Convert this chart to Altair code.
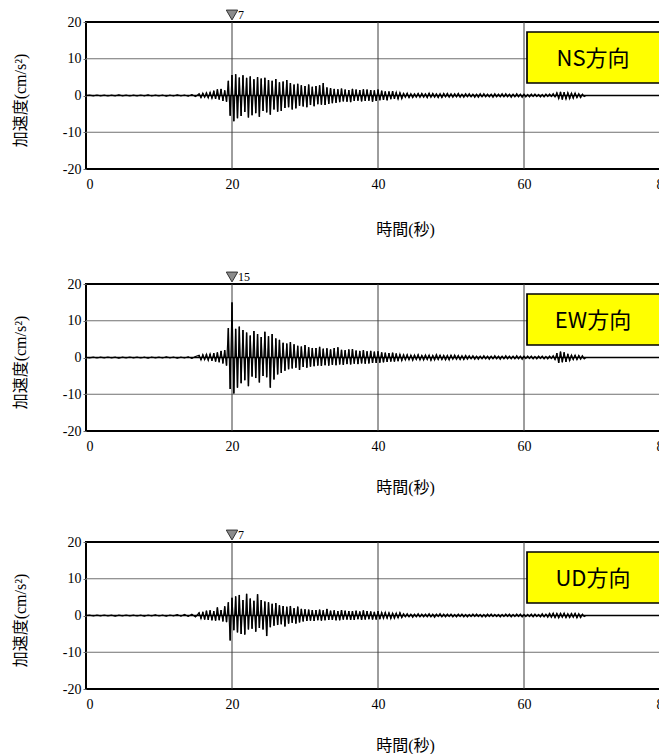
import altair as alt
import pandas as pd

# ---------------- data ----------------
LABELS = ["NS方向", "EW方向", "UD方向"]
PEAK_VALUE = [7, 15, 7]
PEAK_TIME = [20.0, 20.0, 20.0]
X_TICKS = [0, 20, 40, 60, 80]
Y_TICKS = [-20, -10, 0, 10, 20]
H_GRID = [10, -10]
V_GRID = [20, 40, 60]

PRE_STEP = 0.5      # pre-event samples every 0.5 s from 0 s
WAVE_START = 15.5   # main record sampled every 0.25 s from 15.5 s
WAVE_STEP = 0.25
TAIL_T = [68.5, 80.0]
TAIL_V = [0.0, 0.0]

NS_PRE = [0.0, 0.1, -0.1, 0.15, -0.1, 0.1, -0.15, 0.1, -0.1, 0.2, -0.1, 0.1, -0.15, 0.1, -0.1,
          0.15, -0.1, 0.2, -0.15, 0.1, -0.1, 0.15, -0.2, 0.1, -0.15, 0.2, -0.1, 0.15, -0.2, 0.25, -0.3]
EW_PRE = [0.0, -0.1, 0.1, -0.15, 0.1, -0.1, 0.15, -0.1, 0.1, -0.2, 0.1, -0.1, 0.15, -0.1, 0.1,
          -0.15, 0.1, -0.2, 0.15, -0.1, 0.1, -0.15, 0.2, -0.1, 0.15, -0.2, 0.1, -0.15, 0.2, -0.25, 0.3]
UD_PRE = [0.0, 0.1, -0.15, 0.1, -0.1, 0.15, -0.1, 0.1, -0.2, 0.1, -0.1, 0.15, -0.1, 0.1, -0.15,
          0.1, -0.2, 0.15, -0.1, 0.2, -0.15, 0.1, -0.2, 0.15, -0.1, 0.25, -0.2, 0.3, -0.25, 0.35, -0.4]

NS_WAVE = [
    0.5, -0.6, 0.7, -0.5, 0.8, -0.7, 0.9, -0.8, 1.3, -0.9, 1.7, -1.1, 1.8, -1.5, 1.4, -1.7,
    4.0, -5.5, 5.6, -7.0, 5.8, -6.2, 4.9, -5.6, 5.5, -4.5, 4.8, -6.0, 5.2, -5.4, 4.4, -4.8,
    5.0, -5.8, 4.6, -4.2, 4.8, -4.6, 4.2, -5.2, 4.0, -3.8, 4.5, -4.4, 3.6, -4.2, 3.8, -3.4,
    4.2, -3.2, 3.4, -3.8, 3.0, -3.5, 3.2, -2.8, 2.8, -3.0, 2.6, -3.2, 3.0, -2.6, 2.4, -2.9,
    2.6, -2.4, 2.8, -2.5, 3.4, -2.6, 2.2, -2.3, 2.0, -2.1, 1.8, -2.0, 1.7, -1.8, 1.9, -1.6,
    1.6, -1.7, 1.5, -1.8, 1.8, -1.5, 1.6, -1.4, 1.5, -1.6, 1.7, -1.5, 1.6, -1.4, 1.5, -1.7,
    1.4, -1.5, 1.6, -1.3, 1.3, -1.2, 1.1, -1.3, 1.1, -1.0, 1.2, -0.9, 0.9, -1.0, 0.8, -0.9,
    0.6, -0.5, 0.7, -0.6, 0.5, -0.6, 0.5, -0.5, 0.6, -0.5, 0.6, -0.5, 0.5, -0.6, 0.7, -0.5,
    0.6, -0.5, 0.5, -0.6, 0.5, -0.6, 0.6, -0.4, 0.6, -0.5, 0.5, -0.5, 0.5, -0.4, 0.6, -0.5,
    0.4, -0.5, 0.5, -0.4, 0.5, -0.4, 0.4, -0.5, 0.4, -0.5, 0.5, -0.4, 0.5, -0.4, 0.4, -0.4,
    0.4, -0.5, 0.5, -0.4, 0.4, -0.4, 0.5, -0.4, 0.5, -0.4, 0.4, -0.5, 0.4, -0.4, 0.5, -0.4,
    0.4, -0.5, 0.4, -0.4, 0.3, -0.4, 0.4, -0.3, 0.4, -0.3, 0.3, -0.4, 0.3, -0.4, 0.4, -0.3,
    0.4, -0.3, 0.5, -0.4, 0.8, -0.9, 1.0, -1.1, 0.9, -1.0, 0.8, -0.9, 0.7, -0.8, 0.7, -0.6,
    0.5, -0.6, 0.4, -0.3,
]
EW_WAVE = [
    0.6, -0.7, 0.8, -0.6, 0.9, -0.8, 1.0, -0.9, 1.2, -1.1, 1.4, -1.3, 1.8, -1.6, 2.0, -2.2,
    8.0, -8.6, 15.0, -9.8, 7.8, -8.2, 8.4, -7.0, 7.5, -6.2, 6.8, -7.8, 6.0, -5.2, 7.2, -5.6,
    6.4, -6.8, 5.6, -5.0, 7.0, -5.4, 5.8, -8.2, 6.4, -6.0, 5.2, -4.6, 4.8, -4.2, 4.0, -3.6,
    3.8, -3.2, 4.2, -3.0, 3.6, -2.8, 3.2, -3.4, 3.0, -2.6, 3.4, -2.8, 2.8, -2.5, 2.6, -2.4,
    2.6, -2.2, 2.9, -2.3, 2.4, -2.1, 2.5, -2.2, 2.2, -2.0, 2.6, -2.1, 2.8, -1.9, 2.1, -2.0,
    2.0, -1.8, 2.2, -1.9, 2.3, -1.7, 1.9, -1.8, 1.8, -1.6, 2.0, -1.7, 1.7, -1.6, 1.8, -1.5,
    1.6, -1.5, 1.7, -1.4, 1.4, -1.3, 1.3, -1.2, 1.2, -1.1, 1.3, -1.1, 1.1, -1.0, 0.9, -0.9,
    0.8, -0.7, 0.8, -0.7, 0.7, -0.8, 0.7, -0.6, 0.8, -0.7, 0.6, -0.7, 0.7, -0.6, 0.7, -0.8,
    0.6, -0.7, 0.8, -0.6, 0.7, -0.6, 0.6, -0.7, 0.6, -0.7, 0.7, -0.5, 0.7, -0.5, 0.6, -0.6,
    0.5, -0.6, 0.6, -0.5, 0.5, -0.4, 0.5, -0.5, 0.4, -0.5, 0.4, -0.4, 0.5, -0.4, 0.4, -0.5,
    0.4, -0.4, 0.5, -0.4, 0.4, -0.5, 0.4, -0.4, 0.5, -0.4, 0.4, -0.4, 0.4, -0.4, 0.5, -0.4,
    0.4, -0.5, 0.4, -0.3, 0.4, -0.3, 0.4, -0.4, 0.3, -0.4, 0.4, -0.3, 0.4, -0.4, 0.3, -0.4,
    0.4, -0.3, 0.5, -0.6, 1.2, -1.5, 1.6, -1.3, 1.4, -1.2, 1.0, -0.9, 0.7, -0.6, 0.7, -0.6,
    0.6, -0.5, 0.5, -0.4,
]
UD_WAVE = [
    0.8, -0.9, 1.0, -1.1, 1.3, -1.2, 1.4, -1.3, 1.2, -1.4, 2.2, -1.3, 1.5, -1.6, 2.5, -1.8,
    3.6, -6.8, 4.8, -4.0, 5.2, -4.6, 5.6, -5.0, 4.2, -5.2, 5.9, -3.8, 4.6, -3.6, 4.0, -4.4,
    5.8, -3.4, 4.2, -3.8, 3.8, -5.6, 3.6, -3.2, 3.2, -2.8, 3.4, -2.6, 2.8, -2.4, 2.6, -3.0,
    2.4, -2.2, 2.6, -2.0, 2.0, -2.2, 2.4, -1.9, 1.8, -1.6, 1.7, -1.5, 1.6, -1.4, 1.5, -1.5,
    1.5, -1.3, 1.6, -1.4, 1.4, -1.3, 1.8, -1.2, 1.3, -1.2, 1.4, -1.3, 1.2, -1.3, 1.5, -1.1,
    1.3, -1.1, 1.2, -1.2, 1.2, -1.2, 1.3, -1.0, 1.1, -1.2, 1.4, -1.1, 1.2, -1.0, 1.1, -1.1,
    1.0, -1.1, 1.2, -1.0, 0.9, -0.8, 0.9, -0.8, 0.8, -0.9, 0.7, -0.8, 0.7, -0.7, 0.8, -0.6,
    0.5, -0.4, 0.5, -0.4, 0.4, -0.5, 0.4, -0.4, 0.5, -0.4, 0.4, -0.4, 0.4, -0.4, 0.5, -0.4,
    0.4, -0.5, 0.4, -0.3, 0.5, -0.4, 0.4, -0.4, 0.4, -0.3, 0.4, -0.4, 0.3, -0.4, 0.4, -0.3,
    0.4, -0.4, 0.3, -0.4, 0.3, -0.3, 0.4, -0.3, 0.4, -0.3, 0.3, -0.4, 0.3, -0.4, 0.4, -0.3,
    0.4, -0.3, 0.3, -0.3, 0.3, -0.4, 0.3, -0.3, 0.4, -0.3, 0.4, -0.4, 0.3, -0.3, 0.4, -0.3,
    0.4, -0.4, 0.3, -0.3, 0.3, -0.3, 0.4, -0.4, 0.4, -0.3, 0.3, -0.4, 0.5, -0.4, 0.4, -0.5,
    0.6, -0.5, 0.7, -0.6, 0.6, -0.7, 0.6, -0.5, 0.7, -0.6, 0.5, -0.6, 0.6, -0.5, 0.6, -0.7,
    0.5, -0.6, 0.4, -0.3,
]
PRE = [NS_PRE, EW_PRE, UD_PRE]
WAVES = [NS_WAVE, EW_WAVE, UD_WAVE]

NUM_FONT = "Liberation Serif"
SERIF = "Liberation Serif, Noto Sans CJK JP"
SANS = "Noto Sans CJK JP"
W, H = 584, 147
X_TITLE_OFFSET = [60, 56, 56]


def trace_frame(pre, wave):
    t = [i * PRE_STEP for i in range(len(pre))]
    t += [WAVE_START + i * WAVE_STEP for i in range(len(wave))]
    t += TAIL_T
    return pd.DataFrame({"t": t, "a": list(pre) + list(wave) + TAIL_V, "z": 0.0})


XS = alt.Scale(domain=[0, 80], nice=False, zero=False)
YS = alt.Scale(domain=[-20, 20], nice=False)


def axes(i):
    xa = alt.Axis(
        values=X_TICKS, title="時間(秒)", grid=False, ticks=False, domain=False,
        labelFont=NUM_FONT, labelFontSize=14, labelColor="black", labelPadding=8,
        labelExpr="'' + datum.value",
        titleFont=SERIF, titleFontSize=16, titleFontWeight="normal", titleColor="black",
        titleX=319, titleY=X_TITLE_OFFSET[i], titleBaseline="middle", titleAlign="center")
    ya = alt.Axis(
        values=Y_TICKS, title="加速度(cm/s²)", grid=False, domain=False,
        ticks=True, tickSize=3, tickColor="#666", labelPadding=2,
        labelFont=NUM_FONT, labelFontSize=14, labelColor="black",
        labelExpr="'' + datum.value",
        titleFont=SERIF, titleFontSize=16, titleFontWeight="normal", titleColor="black",
        titleX=-66, titleY=78, titleAngle=270, titleBaseline="middle", titleAlign="center")
    return xa, ya


def panel(i):
    xa, ya = axes(i)

    def X(field):
        return alt.X(field, scale=XS, axis=xa)

    def Y(field):
        return alt.Y(field, scale=YS, axis=ya)

    df = trace_frame(PRE[i], WAVES[i])

    hgrid = alt.Chart(pd.DataFrame({"g": H_GRID})).mark_rule(
        color="#707070", strokeWidth=1).encode(y=Y("g:Q"))
    vgrid = alt.Chart(pd.DataFrame({"g": V_GRID})).mark_rule(
        color="#3c3c3c", strokeWidth=1).encode(x=X("g:Q"))
    zero = alt.Chart(pd.DataFrame({"g": [0]})).mark_rule(
        color="black", strokeWidth=1.6).encode(y=Y("g:Q"))

    fill = alt.Chart(df).mark_area(color="black", opacity=1).encode(
        x=X("t:Q"), y=Y("a:Q"), y2="z:Q", order="t:Q")
    spikes = alt.Chart(df).mark_rule(color="black", strokeWidth=1.5).encode(
        x=X("t:Q"), y=Y("a:Q"), y2="z:Q")
    wave = alt.Chart(df).mark_line(color="black", strokeWidth=1.1).encode(
        x=X("t:Q"), y=Y("a:Q"), order="t:Q")

    lab = pd.DataFrame({"label": [LABELS[i]]})
    box = alt.Chart(lab).mark_rect(fill="#ffff00", stroke="black", strokeWidth=1.7).encode(
        x=alt.value(441), x2=alt.value(576), y=alt.value(10), y2=alt.value(61))
    boxtext = alt.Chart(lab).mark_text(font=SANS, fontSize=22, color="black",
                                       baseline="middle", align="center").encode(
        x=alt.value(507), y=alt.value(37), text="label:N")

    pk = pd.DataFrame({"t": [PEAK_TIME[i]], "p": [PEAK_VALUE[i]]})
    tri = alt.Chart(pk).mark_point(shape="triangle-down", filled=True, fill="#8c8c8c",
                                   stroke="#333333", strokeWidth=1, size=130,
                                   opacity=1).encode(x=X("t:Q"), y=alt.value(-7))
    ptxt = alt.Chart(pk).mark_text(font=NUM_FONT, fontSize=12, align="left",
                                   baseline="middle", dx=6, color="black").encode(
        x=X("t:Q"), y=alt.value(-7), text="p:Q")
    return alt.layer(hgrid, vgrid, zero, fill, spikes, wave, box, boxtext, tri, ptxt).properties(
        width=W, height=H)


chart = alt.vconcat(panel(0), panel(1), panel(2), spacing=31).properties(
    padding={"left": 3, "top": -1, "right": -15, "bottom": 0}
).configure_view(
    stroke="black", strokeWidth=2
)

chart.save("out.html", embed_options={"renderer": "svg", "actions": False})
